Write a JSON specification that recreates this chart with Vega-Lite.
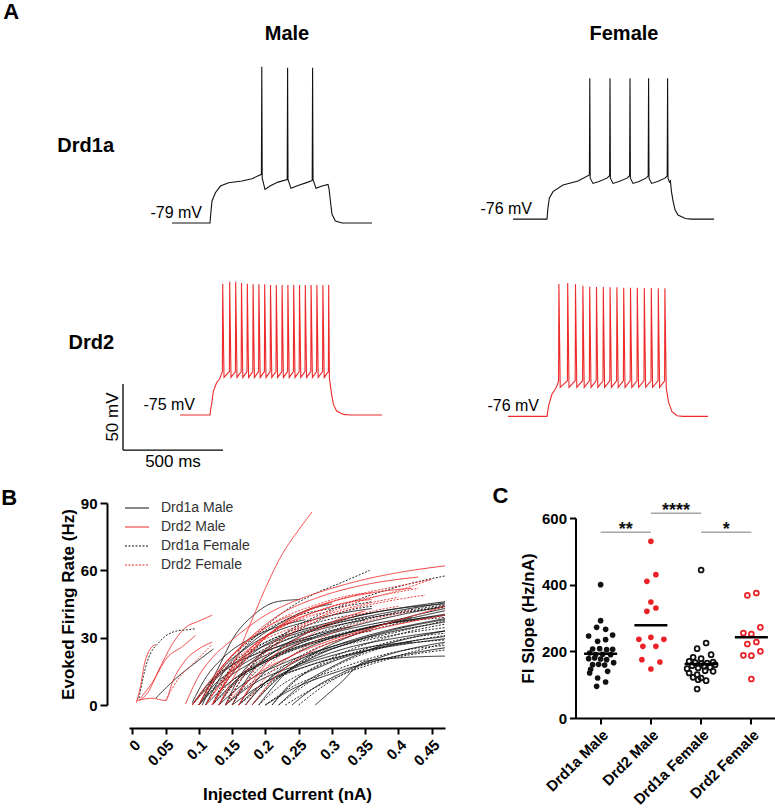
{
"$schema": "https://vega.github.io/schema/vega-lite/v6.json",
"background": "white",
"padding": {"left": 1, "top": 0, "right": 0, "bottom": 0},
"columns": 1,
"align": "none",
"spacing": 14,
"resolve": {"scale": {"color": "independent", "strokeDash": "independent"}},
"concat": [
{
"data": {"values": [
{"type":"Drd1a","sex":"Male","t":-190,"mV":-79},{"type":"Drd1a","sex":"Male","t":0,"mV":-79},{"type":"Drd1a","sex":"Male","t":5,"mV":-70},{"type":"Drd1a","sex":"Male","t":10,"mV":-62.3},{"type":"Drd1a","sex":"Male","t":27,"mV":-56},{"type":"Drd1a","sex":"Male","t":52,"mV":-51},{"type":"Drd1a","sex":"Male","t":93,"mV":-48.5},{"type":"Drd1a","sex":"Male","t":160,"mV":-47.2},{"type":"Drd1a","sex":"Male","t":210,"mV":-45.4},{"type":"Drd1a","sex":"Male","t":257,"mV":-42.1},{"type":"Drd1a","sex":"Male","t":259,"mV":39.4},{"type":"Drd1a","sex":"Male","t":261,"mV":-45},{"type":"Drd1a","sex":"Male","t":275,"mV":-53.5},{"type":"Drd1a","sex":"Male","t":300,"mV":-51},{"type":"Drd1a","sex":"Male","t":340,"mV":-48},{"type":"Drd1a","sex":"Male","t":386,"mV":-46},{"type":"Drd1a","sex":"Male","t":388,"mV":38.6},{"type":"Drd1a","sex":"Male","t":390,"mV":-46},{"type":"Drd1a","sex":"Male","t":405,"mV":-52.7},{"type":"Drd1a","sex":"Male","t":440,"mV":-50.5},{"type":"Drd1a","sex":"Male","t":490,"mV":-48},{"type":"Drd1a","sex":"Male","t":511,"mV":-46.7},{"type":"Drd1a","sex":"Male","t":513,"mV":38.6},{"type":"Drd1a","sex":"Male","t":515,"mV":-46},{"type":"Drd1a","sex":"Male","t":530,"mV":-52.7},{"type":"Drd1a","sex":"Male","t":560,"mV":-51},{"type":"Drd1a","sex":"Male","t":590,"mV":-49.7},{"type":"Drd1a","sex":"Male","t":595,"mV":-53},{"type":"Drd1a","sex":"Male","t":602,"mV":-62.3},{"type":"Drd1a","sex":"Male","t":610,"mV":-72.4},{"type":"Drd1a","sex":"Male","t":627,"mV":-77.5},{"type":"Drd1a","sex":"Male","t":660,"mV":-79},{"type":"Drd1a","sex":"Male","t":810,"mV":-79},
{"type":"Drd1a","sex":"Female","t":-170,"mV":-76},{"type":"Drd1a","sex":"Female","t":0,"mV":-76},{"type":"Drd1a","sex":"Female","t":5,"mV":-67},{"type":"Drd1a","sex":"Female","t":12,"mV":-60},{"type":"Drd1a","sex":"Female","t":30,"mV":-55.2},{"type":"Drd1a","sex":"Female","t":80,"mV":-50.2},{"type":"Drd1a","sex":"Female","t":155,"mV":-47.2},{"type":"Drd1a","sex":"Female","t":212,"mV":-42.6},{"type":"Drd1a","sex":"Female","t":214,"mV":30.6},{"type":"Drd1a","sex":"Female","t":216,"mV":-45},{"type":"Drd1a","sex":"Female","t":230,"mV":-49},{"type":"Drd1a","sex":"Female","t":260,"mV":-47.5},{"type":"Drd1a","sex":"Female","t":300,"mV":-45},{"type":"Drd1a","sex":"Female","t":313,"mV":-43.2},{"type":"Drd1a","sex":"Female","t":315,"mV":30.6},{"type":"Drd1a","sex":"Female","t":317,"mV":-45},{"type":"Drd1a","sex":"Female","t":330,"mV":-49},{"type":"Drd1a","sex":"Female","t":360,"mV":-47.5},{"type":"Drd1a","sex":"Female","t":400,"mV":-45},{"type":"Drd1a","sex":"Female","t":413,"mV":-43.2},{"type":"Drd1a","sex":"Female","t":415,"mV":30.6},{"type":"Drd1a","sex":"Female","t":417,"mV":-45},{"type":"Drd1a","sex":"Female","t":430,"mV":-49},{"type":"Drd1a","sex":"Female","t":460,"mV":-47.5},{"type":"Drd1a","sex":"Female","t":495,"mV":-45},{"type":"Drd1a","sex":"Female","t":506,"mV":-43.2},{"type":"Drd1a","sex":"Female","t":508,"mV":30.6},{"type":"Drd1a","sex":"Female","t":510,"mV":-45},{"type":"Drd1a","sex":"Female","t":523,"mV":-49},{"type":"Drd1a","sex":"Female","t":553,"mV":-47.5},{"type":"Drd1a","sex":"Female","t":590,"mV":-45},{"type":"Drd1a","sex":"Female","t":601,"mV":-43.2},{"type":"Drd1a","sex":"Female","t":603,"mV":30.6},{"type":"Drd1a","sex":"Female","t":605,"mV":-45},{"type":"Drd1a","sex":"Female","t":612,"mV":-48},{"type":"Drd1a","sex":"Female","t":617,"mV":-47},{"type":"Drd1a","sex":"Female","t":622,"mV":-55},{"type":"Drd1a","sex":"Female","t":630,"mV":-62},{"type":"Drd1a","sex":"Female","t":640,"mV":-69},{"type":"Drd1a","sex":"Female","t":655,"mV":-73},{"type":"Drd1a","sex":"Female","t":692,"mV":-75.5},{"type":"Drd1a","sex":"Female","t":720,"mV":-76},{"type":"Drd1a","sex":"Female","t":835,"mV":-76},
{"type":"Drd2","sex":"Male","t":-150,"mV":-75},{"type":"Drd2","sex":"Male","t":0,"mV":-75},{"type":"Drd2","sex":"Male","t":4,"mV":-70},{"type":"Drd2","sex":"Male","t":8,"mV":-66.9},{"type":"Drd2","sex":"Male","t":17,"mV":-56.8},{"type":"Drd2","sex":"Male","t":33,"mV":-50.5},{"type":"Drd2","sex":"Male","t":50,"mV":-47.2},
{"type":"Drd2","sex":"Male","t":62,"mV":-42},{"type":"Drd2","sex":"Male","t":63.5,"mV":24.5},{"type":"Drd2","sex":"Male","t":70,"mV":-46.5},
{"type":"Drd2","sex":"Male","t":97,"mV":-42},{"type":"Drd2","sex":"Male","t":98.5,"mV":26},{"type":"Drd2","sex":"Male","t":105,"mV":-46.5},
{"type":"Drd2","sex":"Male","t":127,"mV":-42},{"type":"Drd2","sex":"Male","t":128.5,"mV":26},{"type":"Drd2","sex":"Male","t":135,"mV":-46.5},
{"type":"Drd2","sex":"Male","t":156,"mV":-42},{"type":"Drd2","sex":"Male","t":157.5,"mV":25},{"type":"Drd2","sex":"Male","t":164,"mV":-46.5},
{"type":"Drd2","sex":"Male","t":185,"mV":-42},{"type":"Drd2","sex":"Male","t":186.5,"mV":24.5},{"type":"Drd2","sex":"Male","t":193,"mV":-46.5},
{"type":"Drd2","sex":"Male","t":214,"mV":-42},{"type":"Drd2","sex":"Male","t":215.5,"mV":24},{"type":"Drd2","sex":"Male","t":222,"mV":-46.5},
{"type":"Drd2","sex":"Male","t":243,"mV":-42},{"type":"Drd2","sex":"Male","t":244.5,"mV":24},{"type":"Drd2","sex":"Male","t":251,"mV":-46.5},
{"type":"Drd2","sex":"Male","t":272,"mV":-42},{"type":"Drd2","sex":"Male","t":273.5,"mV":24},{"type":"Drd2","sex":"Male","t":280,"mV":-46.5},
{"type":"Drd2","sex":"Male","t":301,"mV":-42},{"type":"Drd2","sex":"Male","t":302.5,"mV":23.5},{"type":"Drd2","sex":"Male","t":309,"mV":-46.5},
{"type":"Drd2","sex":"Male","t":330,"mV":-42},{"type":"Drd2","sex":"Male","t":331.5,"mV":23.5},{"type":"Drd2","sex":"Male","t":338,"mV":-46.5},
{"type":"Drd2","sex":"Male","t":359,"mV":-42},{"type":"Drd2","sex":"Male","t":360.5,"mV":23.5},{"type":"Drd2","sex":"Male","t":367,"mV":-46.5},
{"type":"Drd2","sex":"Male","t":388,"mV":-42},{"type":"Drd2","sex":"Male","t":389.5,"mV":23.5},{"type":"Drd2","sex":"Male","t":396,"mV":-46.5},
{"type":"Drd2","sex":"Male","t":417,"mV":-42},{"type":"Drd2","sex":"Male","t":418.5,"mV":23.5},{"type":"Drd2","sex":"Male","t":425,"mV":-46.5},
{"type":"Drd2","sex":"Male","t":446,"mV":-42},{"type":"Drd2","sex":"Male","t":447.5,"mV":23.5},{"type":"Drd2","sex":"Male","t":454,"mV":-46.5},
{"type":"Drd2","sex":"Male","t":475,"mV":-42},{"type":"Drd2","sex":"Male","t":476.5,"mV":23.5},{"type":"Drd2","sex":"Male","t":483,"mV":-46.5},
{"type":"Drd2","sex":"Male","t":504,"mV":-42},{"type":"Drd2","sex":"Male","t":505.5,"mV":23.5},{"type":"Drd2","sex":"Male","t":512,"mV":-46.5},
{"type":"Drd2","sex":"Male","t":533,"mV":-42},{"type":"Drd2","sex":"Male","t":534.5,"mV":23.5},{"type":"Drd2","sex":"Male","t":541,"mV":-46.5},
{"type":"Drd2","sex":"Male","t":563,"mV":-42},{"type":"Drd2","sex":"Male","t":564.5,"mV":23.5},{"type":"Drd2","sex":"Male","t":571,"mV":-46.5},
{"type":"Drd2","sex":"Male","t":592,"mV":-42},{"type":"Drd2","sex":"Male","t":593.5,"mV":23.5},{"type":"Drd2","sex":"Male","t":597,"mV":-47},
{"type":"Drd2","sex":"Male","t":608,"mV":-59.3},{"type":"Drd2","sex":"Male","t":617,"mV":-66.9},{"type":"Drd2","sex":"Male","t":633,"mV":-72},{"type":"Drd2","sex":"Male","t":667,"mV":-74.5},{"type":"Drd2","sex":"Male","t":700,"mV":-75},{"type":"Drd2","sex":"Male","t":860,"mV":-75},
{"type":"Drd2","sex":"Female","t":-195,"mV":-76},{"type":"Drd2","sex":"Female","t":0,"mV":-76},{"type":"Drd2","sex":"Female","t":4,"mV":-72},{"type":"Drd2","sex":"Female","t":8,"mV":-67.9},{"type":"Drd2","sex":"Female","t":25,"mV":-59.1},{"type":"Drd2","sex":"Female","t":42,"mV":-55.3},{"type":"Drd2","sex":"Female","t":52,"mV":-52},
{"type":"Drd2","sex":"Female","t":58,"mV":-49},{"type":"Drd2","sex":"Female","t":59.5,"mV":24.2},{"type":"Drd2","sex":"Female","t":66,"mV":-54},
{"type":"Drd2","sex":"Female","t":102,"mV":-49},{"type":"Drd2","sex":"Female","t":103.5,"mV":25},{"type":"Drd2","sex":"Female","t":110,"mV":-54},
{"type":"Drd2","sex":"Female","t":141,"mV":-49},{"type":"Drd2","sex":"Female","t":142.5,"mV":24},{"type":"Drd2","sex":"Female","t":149,"mV":-54},
{"type":"Drd2","sex":"Female","t":178,"mV":-49},{"type":"Drd2","sex":"Female","t":179.5,"mV":23},{"type":"Drd2","sex":"Female","t":186,"mV":-54},
{"type":"Drd2","sex":"Female","t":212,"mV":-49},{"type":"Drd2","sex":"Female","t":213.5,"mV":22.2},{"type":"Drd2","sex":"Female","t":220,"mV":-54},
{"type":"Drd2","sex":"Female","t":246,"mV":-49},{"type":"Drd2","sex":"Female","t":247.5,"mV":22},{"type":"Drd2","sex":"Female","t":254,"mV":-54},
{"type":"Drd2","sex":"Female","t":280,"mV":-49},{"type":"Drd2","sex":"Female","t":281.5,"mV":22},{"type":"Drd2","sex":"Female","t":288,"mV":-54},
{"type":"Drd2","sex":"Female","t":314,"mV":-49},{"type":"Drd2","sex":"Female","t":315.5,"mV":21.8},{"type":"Drd2","sex":"Female","t":322,"mV":-54},
{"type":"Drd2","sex":"Female","t":348,"mV":-49},{"type":"Drd2","sex":"Female","t":349.5,"mV":21.8},{"type":"Drd2","sex":"Female","t":356,"mV":-54},
{"type":"Drd2","sex":"Female","t":382,"mV":-49},{"type":"Drd2","sex":"Female","t":383.5,"mV":21.5},{"type":"Drd2","sex":"Female","t":390,"mV":-54},
{"type":"Drd2","sex":"Female","t":416,"mV":-49},{"type":"Drd2","sex":"Female","t":417.5,"mV":21.5},{"type":"Drd2","sex":"Female","t":424,"mV":-54},
{"type":"Drd2","sex":"Female","t":450,"mV":-49},{"type":"Drd2","sex":"Female","t":451.5,"mV":21.5},{"type":"Drd2","sex":"Female","t":458,"mV":-54},
{"type":"Drd2","sex":"Female","t":485,"mV":-49},{"type":"Drd2","sex":"Female","t":486.5,"mV":21.3},{"type":"Drd2","sex":"Female","t":493,"mV":-54},
{"type":"Drd2","sex":"Female","t":520,"mV":-49},{"type":"Drd2","sex":"Female","t":521.5,"mV":21.3},{"type":"Drd2","sex":"Female","t":528,"mV":-54},
{"type":"Drd2","sex":"Female","t":555,"mV":-49},{"type":"Drd2","sex":"Female","t":556.5,"mV":21},{"type":"Drd2","sex":"Female","t":563,"mV":-54},
{"type":"Drd2","sex":"Female","t":588,"mV":-49},{"type":"Drd2","sex":"Female","t":589.5,"mV":21},{"type":"Drd2","sex":"Female","t":596,"mV":-54},
{"type":"Drd2","sex":"Female","t":600,"mV":-58},{"type":"Drd2","sex":"Female","t":608,"mV":-65.4},{"type":"Drd2","sex":"Female","t":625,"mV":-72.5},{"type":"Drd2","sex":"Female","t":650,"mV":-75.5},{"type":"Drd2","sex":"Female","t":680,"mV":-76},{"type":"Drd2","sex":"Female","t":805,"mV":-76},
{"kind":"vm","type":"Drd1a","sex":"Male","t":-40,"mV":-79,"label":"-79 mV"},
{"kind":"vm","type":"Drd1a","sex":"Female","t":-75,"mV":-76,"label":"-76 mV"},
{"kind":"vm","type":"Drd2","sex":"Male","t":-75,"mV":-75,"label":"-75 mV"},
{"kind":"vm","type":"Drd2","sex":"Female","t":-40,"mV":-76,"label":"-76 mV"},
{"kind":"bar","type":"Drd2","sex":"Male","t":-435,"t2":-435,"mV":-101.5,"mV2":-51.5},
{"kind":"bar","type":"Drd2","sex":"Male","t":-435,"t2":65,"mV":-101.5,"mV2":-101.5},
{"kind":"vlabel","type":"Drd2","sex":"Male","t":-435,"mV":-76.5,"label":"50 mV"},
{"kind":"hlabel","type":"Drd2","sex":"Male","t":-185,"mV":-101.5,"label":"500 ms"}
]},
"title": {"text": "A", "anchor": "start", "frame": "bounds", "fontSize": 22, "fontWeight": "bold", "dx": -54, "offset": 0},
"align": {"row": "each", "column": "all"},
"facet": {
"row": {"field": "type", "type": "nominal", "sort": ["Drd1a", "Drd2"], "header": {"title": null, "labelAngle": 0, "labelOrient": "left", "labelAlign": "left", "labelFontSize": 20, "labelFontWeight": "bold", "labelPadding": -10}},
"column": {"field": "sex", "type": "nominal", "sort": ["Male", "Female"], "header": {"title": null, "labelFontSize": 20, "labelFontWeight": "bold", "labelPadding": 7.5}}
},
"spacing": {"row": 7.3, "column": 21},
"spec": {
"width": 316, "height": 190,
"encoding": {
"x": {"field": "t", "type": "quantitative", "scale": {"domain": [-405, 1175], "nice": false, "zero": false}, "axis": null},
"y": {"field": "mV", "type": "quantitative", "scale": {"domain": [-92.6, 51.3], "nice": false, "zero": false}, "axis": null}
},
"layer": [
{"transform": [{"filter": "!datum.kind"}], "mark": {"type": "line", "strokeWidth": 1.1}, "encoding": {"color": {"field": "type", "type": "nominal", "scale": {"domain": ["Drd1a", "Drd2"], "range": ["#111111", "#ee2a2a"]}, "legend": null}}},
{"transform": [{"filter": "datum.kind == 'bar'"}], "mark": {"type": "rule", "strokeWidth": 1.3, "color": "black"}, "encoding": {"x2": {"field": "t2"}, "y2": {"field": "mV2"}}},
{"transform": [{"filter": "datum.kind == 'vm'"}], "mark": {"type": "text", "align": "right", "baseline": "alphabetic", "dy": -5, "fontSize": 16, "color": "black"}, "encoding": {"text": {"field": "label"}}},
{"transform": [{"filter": "datum.kind == 'vlabel'"}], "mark": {"type": "text", "angle": 270, "align": "center", "baseline": "bottom", "dy": -1, "fontSize": 17, "color": "black"}, "encoding": {"text": {"field": "label"}}},
{"transform": [{"filter": "datum.kind == 'hlabel'"}], "mark": {"type": "text", "align": "center", "baseline": "top", "dy": 4, "fontSize": 17, "color": "black"}, "encoding": {"text": {"field": "label"}}}
]
}
},
{
"columns": 2,
"align": "none",
"spacing": 44.5,
"resolve": {"scale": {"color": "independent", "strokeDash": "independent"}},
"concat": [
{
"width": 316, "height": 202,
"title": {"text": "B", "anchor": "start", "frame": "bounds", "fontSize": 22, "fontWeight": "bold", "dx": -58, "offset": -14},
"data": {"values": [
{"id":"D1","grp":"Drd1a Female","nA":0.01,"Hz":3},{"id":"D1","grp":"Drd1a Female","nA":0.022,"Hz":19},{"id":"D1","grp":"Drd1a Female","nA":0.042,"Hz":28.5},{"id":"D1","grp":"Drd1a Female","nA":0.067,"Hz":33},{"id":"D1","grp":"Drd1a Female","nA":0.082,"Hz":33.5},{"id":"D1","grp":"Drd1a Female","nA":0.095,"Hz":34},
{"id":"D2","grp":"Drd1a Female","nA":0.12,"Hz":0},{"id":"D2","grp":"Drd1a Female","nA":0.15,"Hz":18},{"id":"D2","grp":"Drd1a Female","nA":0.19,"Hz":32},{"id":"D2","grp":"Drd1a Female","nA":0.23,"Hz":42},{"id":"D2","grp":"Drd1a Female","nA":0.27,"Hz":49},{"id":"D2","grp":"Drd1a Female","nA":0.31,"Hz":54},{"id":"D2","grp":"Drd1a Female","nA":0.357,"Hz":60},
{"id":"D3","grp":"Drd1a Female","nA":0.14,"Hz":0},{"id":"D3","grp":"Drd1a Female","nA":0.18,"Hz":18},{"id":"D3","grp":"Drd1a Female","nA":0.23,"Hz":32},{"id":"D3","grp":"Drd1a Female","nA":0.28,"Hz":40},{"id":"D3","grp":"Drd1a Female","nA":0.33,"Hz":46},{"id":"D3","grp":"Drd1a Female","nA":0.38,"Hz":51},{"id":"D3","grp":"Drd1a Female","nA":0.43,"Hz":55},{"id":"D3","grp":"Drd1a Female","nA":0.47,"Hz":57.5},
{"id":"D4","grp":"Drd1a Female","nA":0.1,"Hz":0},{"id":"D4","grp":"Drd1a Female","nA":0.13,"Hz":10},{"id":"D4","grp":"Drd1a Female","nA":0.17,"Hz":20},{"id":"D4","grp":"Drd1a Female","nA":0.23,"Hz":29},{"id":"D4","grp":"Drd1a Female","nA":0.3,"Hz":36},{"id":"D4","grp":"Drd1a Female","nA":0.38,"Hz":40},{"id":"D4","grp":"Drd1a Female","nA":0.47,"Hz":43.5},
{"id":"D5","grp":"Drd1a Female","nA":0.12,"Hz":0},{"id":"D5","grp":"Drd1a Female","nA":0.16,"Hz":11},{"id":"D5","grp":"Drd1a Female","nA":0.21,"Hz":21},{"id":"D5","grp":"Drd1a Female","nA":0.28,"Hz":29},{"id":"D5","grp":"Drd1a Female","nA":0.36,"Hz":35},{"id":"D5","grp":"Drd1a Female","nA":0.47,"Hz":39},
{"id":"D6","grp":"Drd1a Female","nA":0.14,"Hz":0},{"id":"D6","grp":"Drd1a Female","nA":0.18,"Hz":10},{"id":"D6","grp":"Drd1a Female","nA":0.24,"Hz":19},{"id":"D6","grp":"Drd1a Female","nA":0.31,"Hz":26},{"id":"D6","grp":"Drd1a Female","nA":0.39,"Hz":31},{"id":"D6","grp":"Drd1a Female","nA":0.47,"Hz":34.5},
{"id":"D7","grp":"Drd1a Female","nA":0.16,"Hz":0},{"id":"D7","grp":"Drd1a Female","nA":0.2,"Hz":9},{"id":"D7","grp":"Drd1a Female","nA":0.26,"Hz":17},{"id":"D7","grp":"Drd1a Female","nA":0.33,"Hz":23},{"id":"D7","grp":"Drd1a Female","nA":0.4,"Hz":27},{"id":"D7","grp":"Drd1a Female","nA":0.47,"Hz":29},
{"id":"D8","grp":"Drd1a Female","nA":0.2,"Hz":0},{"id":"D8","grp":"Drd1a Female","nA":0.24,"Hz":8},{"id":"D8","grp":"Drd1a Female","nA":0.3,"Hz":15},{"id":"D8","grp":"Drd1a Female","nA":0.36,"Hz":21},{"id":"D8","grp":"Drd1a Female","nA":0.42,"Hz":25},{"id":"D8","grp":"Drd1a Female","nA":0.47,"Hz":26.5},
{"id":"D9","grp":"Drd1a Female","nA":0.23,"Hz":0},{"id":"D9","grp":"Drd1a Female","nA":0.27,"Hz":7},{"id":"D9","grp":"Drd1a Female","nA":0.32,"Hz":14},{"id":"D9","grp":"Drd1a Female","nA":0.38,"Hz":20},{"id":"D9","grp":"Drd1a Female","nA":0.47,"Hz":24.5},
{"id":"D10","grp":"Drd1a Female","nA":0.25,"Hz":0},{"id":"D10","grp":"Drd1a Female","nA":0.29,"Hz":9},{"id":"D10","grp":"Drd1a Female","nA":0.34,"Hz":17},{"id":"D10","grp":"Drd1a Female","nA":0.4,"Hz":22},{"id":"D10","grp":"Drd1a Female","nA":0.47,"Hz":27.5},
{"id":"D11","grp":"Drd1a Female","nA":0.11,"Hz":0},{"id":"D11","grp":"Drd1a Female","nA":0.14,"Hz":13},{"id":"D11","grp":"Drd1a Female","nA":0.18,"Hz":24},{"id":"D11","grp":"Drd1a Female","nA":0.23,"Hz":32},{"id":"D11","grp":"Drd1a Female","nA":0.28,"Hz":37},{"id":"D11","grp":"Drd1a Female","nA":0.33,"Hz":40},{"id":"D11","grp":"Drd1a Female","nA":0.36,"Hz":41},
{"id":"D12","grp":"Drd1a Female","nA":0.13,"Hz":0},{"id":"D12","grp":"Drd1a Female","nA":0.16,"Hz":12},{"id":"D12","grp":"Drd1a Female","nA":0.21,"Hz":23},{"id":"D12","grp":"Drd1a Female","nA":0.27,"Hz":31},{"id":"D12","grp":"Drd1a Female","nA":0.33,"Hz":37},{"id":"D12","grp":"Drd1a Female","nA":0.4,"Hz":41},{"id":"D12","grp":"Drd1a Female","nA":0.47,"Hz":44},
{"id":"D13","grp":"Drd1a Female","nA":0.09,"Hz":0},{"id":"D13","grp":"Drd1a Female","nA":0.12,"Hz":11},{"id":"D13","grp":"Drd1a Female","nA":0.16,"Hz":21},{"id":"D13","grp":"Drd1a Female","nA":0.2,"Hz":28},{"id":"D13","grp":"Drd1a Female","nA":0.25,"Hz":33},{"id":"D13","grp":"Drd1a Female","nA":0.3,"Hz":36},
{"id":"D14","grp":"Drd1a Female","nA":0.17,"Hz":0},{"id":"D14","grp":"Drd1a Female","nA":0.21,"Hz":13},{"id":"D14","grp":"Drd1a Female","nA":0.26,"Hz":23},{"id":"D14","grp":"Drd1a Female","nA":0.32,"Hz":30},{"id":"D14","grp":"Drd1a Female","nA":0.38,"Hz":35},{"id":"D14","grp":"Drd1a Female","nA":0.47,"Hz":40},
{"id":"D15","grp":"Drd1a Female","nA":0.19,"Hz":0},{"id":"D15","grp":"Drd1a Female","nA":0.22,"Hz":8},{"id":"D15","grp":"Drd1a Female","nA":0.27,"Hz":16},{"id":"D15","grp":"Drd1a Female","nA":0.33,"Hz":23},{"id":"D15","grp":"Drd1a Female","nA":0.4,"Hz":29},{"id":"D15","grp":"Drd1a Female","nA":0.47,"Hz":32},
{"id":"D16","grp":"Drd1a Female","nA":0.15,"Hz":0},{"id":"D16","grp":"Drd1a Female","nA":0.18,"Hz":13},{"id":"D16","grp":"Drd1a Female","nA":0.23,"Hz":24},{"id":"D16","grp":"Drd1a Female","nA":0.29,"Hz":32},{"id":"D16","grp":"Drd1a Female","nA":0.35,"Hz":38},{"id":"D16","grp":"Drd1a Female","nA":0.41,"Hz":42},{"id":"D16","grp":"Drd1a Female","nA":0.47,"Hz":44.5},
{"id":"D17","grp":"Drd1a Female","nA":0.21,"Hz":0},{"id":"D17","grp":"Drd1a Female","nA":0.25,"Hz":12},{"id":"D17","grp":"Drd1a Female","nA":0.3,"Hz":21},{"id":"D17","grp":"Drd1a Female","nA":0.36,"Hz":28},{"id":"D17","grp":"Drd1a Female","nA":0.42,"Hz":33},{"id":"D17","grp":"Drd1a Female","nA":0.47,"Hz":36},
{"id":"D18","grp":"Drd1a Female","nA":0.12,"Hz":0},{"id":"D18","grp":"Drd1a Female","nA":0.14,"Hz":8},{"id":"D18","grp":"Drd1a Female","nA":0.18,"Hz":16},{"id":"D18","grp":"Drd1a Female","nA":0.23,"Hz":23},{"id":"D18","grp":"Drd1a Female","nA":0.29,"Hz":29},{"id":"D18","grp":"Drd1a Female","nA":0.36,"Hz":33},
{"id":"D19","grp":"Drd1a Female","nA":0.1,"Hz":0},{"id":"D19","grp":"Drd1a Female","nA":0.13,"Hz":15},{"id":"D19","grp":"Drd1a Female","nA":0.17,"Hz":27},{"id":"D19","grp":"Drd1a Female","nA":0.21,"Hz":35},{"id":"D19","grp":"Drd1a Female","nA":0.25,"Hz":40},{"id":"D19","grp":"Drd1a Female","nA":0.3,"Hz":43},{"id":"D19","grp":"Drd1a Female","nA":0.36,"Hz":46},
{"id":"D20","grp":"Drd1a Female","nA":0.18,"Hz":0},{"id":"D20","grp":"Drd1a Female","nA":0.21,"Hz":10},{"id":"D20","grp":"Drd1a Female","nA":0.26,"Hz":20},{"id":"D20","grp":"Drd1a Female","nA":0.32,"Hz":27},{"id":"D20","grp":"Drd1a Female","nA":0.39,"Hz":32},{"id":"D20","grp":"Drd1a Female","nA":0.47,"Hz":37.5},
{"id":"D21","grp":"Drd1a Female","nA":0.22,"Hz":0},{"id":"D21","grp":"Drd1a Female","nA":0.26,"Hz":9},{"id":"D21","grp":"Drd1a Female","nA":0.31,"Hz":18},{"id":"D21","grp":"Drd1a Female","nA":0.37,"Hz":25},{"id":"D21","grp":"Drd1a Female","nA":0.43,"Hz":29},{"id":"D21","grp":"Drd1a Female","nA":0.47,"Hz":31},
{"id":"D22","grp":"Drd1a Female","nA":0.14,"Hz":0},{"id":"D22","grp":"Drd1a Female","nA":0.17,"Hz":14},{"id":"D22","grp":"Drd1a Female","nA":0.21,"Hz":26},{"id":"D22","grp":"Drd1a Female","nA":0.26,"Hz":35},{"id":"D22","grp":"Drd1a Female","nA":0.31,"Hz":41},{"id":"D22","grp":"Drd1a Female","nA":0.36,"Hz":44},
{"id":"S1","grp":"Drd1a Male","nA":0.09,"Hz":0},{"id":"S1","grp":"Drd1a Male","nA":0.12,"Hz":10},{"id":"S1","grp":"Drd1a Male","nA":0.16,"Hz":20},{"id":"S1","grp":"Drd1a Male","nA":0.22,"Hz":29},{"id":"S1","grp":"Drd1a Male","nA":0.3,"Hz":36},{"id":"S1","grp":"Drd1a Male","nA":0.38,"Hz":41},{"id":"S1","grp":"Drd1a Male","nA":0.47,"Hz":45.5},
{"id":"S2","grp":"Drd1a Male","nA":0.1,"Hz":0},{"id":"S2","grp":"Drd1a Male","nA":0.13,"Hz":9},{"id":"S2","grp":"Drd1a Male","nA":0.18,"Hz":19},{"id":"S2","grp":"Drd1a Male","nA":0.25,"Hz":28},{"id":"S2","grp":"Drd1a Male","nA":0.33,"Hz":35},{"id":"S2","grp":"Drd1a Male","nA":0.4,"Hz":40},{"id":"S2","grp":"Drd1a Male","nA":0.47,"Hz":44},
{"id":"S3","grp":"Drd1a Male","nA":0.11,"Hz":0},{"id":"S3","grp":"Drd1a Male","nA":0.15,"Hz":11},{"id":"S3","grp":"Drd1a Male","nA":0.2,"Hz":20},{"id":"S3","grp":"Drd1a Male","nA":0.27,"Hz":28},{"id":"S3","grp":"Drd1a Male","nA":0.35,"Hz":34},{"id":"S3","grp":"Drd1a Male","nA":0.47,"Hz":42},
{"id":"S4","grp":"Drd1a Male","nA":0.12,"Hz":0},{"id":"S4","grp":"Drd1a Male","nA":0.16,"Hz":12},{"id":"S4","grp":"Drd1a Male","nA":0.22,"Hz":22},{"id":"S4","grp":"Drd1a Male","nA":0.3,"Hz":30},{"id":"S4","grp":"Drd1a Male","nA":0.38,"Hz":36},{"id":"S4","grp":"Drd1a Male","nA":0.47,"Hz":40},
{"id":"S5","grp":"Drd1a Male","nA":0.13,"Hz":0},{"id":"S5","grp":"Drd1a Male","nA":0.17,"Hz":10},{"id":"S5","grp":"Drd1a Male","nA":0.23,"Hz":19},{"id":"S5","grp":"Drd1a Male","nA":0.3,"Hz":26},{"id":"S5","grp":"Drd1a Male","nA":0.38,"Hz":32},{"id":"S5","grp":"Drd1a Male","nA":0.47,"Hz":37},
{"id":"S6","grp":"Drd1a Male","nA":0.14,"Hz":0},{"id":"S6","grp":"Drd1a Male","nA":0.18,"Hz":9},{"id":"S6","grp":"Drd1a Male","nA":0.25,"Hz":18},{"id":"S6","grp":"Drd1a Male","nA":0.33,"Hz":26},{"id":"S6","grp":"Drd1a Male","nA":0.4,"Hz":30},{"id":"S6","grp":"Drd1a Male","nA":0.47,"Hz":33},
{"id":"S7","grp":"Drd1a Male","nA":0.15,"Hz":0},{"id":"S7","grp":"Drd1a Male","nA":0.2,"Hz":10},{"id":"S7","grp":"Drd1a Male","nA":0.27,"Hz":18},{"id":"S7","grp":"Drd1a Male","nA":0.35,"Hz":24},{"id":"S7","grp":"Drd1a Male","nA":0.47,"Hz":29.5},
{"id":"S8","grp":"Drd1a Male","nA":0.2,"Hz":0},{"id":"S8","grp":"Drd1a Male","nA":0.24,"Hz":7},{"id":"S8","grp":"Drd1a Male","nA":0.3,"Hz":14},{"id":"S8","grp":"Drd1a Male","nA":0.37,"Hz":20},{"id":"S8","grp":"Drd1a Male","nA":0.47,"Hz":25.5},
{"id":"S9","grp":"Drd1a Male","nA":0.275,"Hz":0},{"id":"S9","grp":"Drd1a Male","nA":0.31,"Hz":9},{"id":"S9","grp":"Drd1a Male","nA":0.352,"Hz":19.6},{"id":"S9","grp":"Drd1a Male","nA":0.4,"Hz":21},{"id":"S9","grp":"Drd1a Male","nA":0.47,"Hz":21.8},
{"id":"S10","grp":"Drd1a Male","nA":0.1,"Hz":0},{"id":"S10","grp":"Drd1a Male","nA":0.13,"Hz":17},{"id":"S10","grp":"Drd1a Male","nA":0.152,"Hz":30},{"id":"S10","grp":"Drd1a Male","nA":0.182,"Hz":40},{"id":"S10","grp":"Drd1a Male","nA":0.217,"Hz":46},{"id":"S10","grp":"Drd1a Male","nA":0.252,"Hz":47},
{"id":"S11","grp":"Drd1a Male","nA":0.035,"Hz":3},{"id":"S11","grp":"Drd1a Male","nA":0.07,"Hz":13},{"id":"S11","grp":"Drd1a Male","nA":0.1,"Hz":20},{"id":"S11","grp":"Drd1a Male","nA":0.122,"Hz":25},
{"id":"S12","grp":"Drd1a Male","nA":0.09,"Hz":1},{"id":"S12","grp":"Drd1a Male","nA":0.11,"Hz":12},{"id":"S12","grp":"Drd1a Male","nA":0.14,"Hz":22},{"id":"S12","grp":"Drd1a Male","nA":0.18,"Hz":30},{"id":"S12","grp":"Drd1a Male","nA":0.22,"Hz":35},{"id":"S12","grp":"Drd1a Male","nA":0.26,"Hz":38},
{"id":"S13","grp":"Drd1a Male","nA":0.105,"Hz":0},{"id":"S13","grp":"Drd1a Male","nA":0.13,"Hz":14},{"id":"S13","grp":"Drd1a Male","nA":0.17,"Hz":25},{"id":"S13","grp":"Drd1a Male","nA":0.21,"Hz":32},{"id":"S13","grp":"Drd1a Male","nA":0.26,"Hz":37},{"id":"S13","grp":"Drd1a Male","nA":0.3,"Hz":40},{"id":"S13","grp":"Drd1a Male","nA":0.36,"Hz":43},
{"id":"S14","grp":"Drd1a Male","nA":0.12,"Hz":0},{"id":"S14","grp":"Drd1a Male","nA":0.15,"Hz":14},{"id":"S14","grp":"Drd1a Male","nA":0.19,"Hz":25},{"id":"S14","grp":"Drd1a Male","nA":0.24,"Hz":32},{"id":"S14","grp":"Drd1a Male","nA":0.3,"Hz":37},{"id":"S14","grp":"Drd1a Male","nA":0.36,"Hz":41},{"id":"S14","grp":"Drd1a Male","nA":0.42,"Hz":44},{"id":"S14","grp":"Drd1a Male","nA":0.47,"Hz":46},
{"id":"S15","grp":"Drd1a Male","nA":0.16,"Hz":0},{"id":"S15","grp":"Drd1a Male","nA":0.19,"Hz":12},{"id":"S15","grp":"Drd1a Male","nA":0.24,"Hz":22},{"id":"S15","grp":"Drd1a Male","nA":0.3,"Hz":30},{"id":"S15","grp":"Drd1a Male","nA":0.36,"Hz":35},{"id":"S15","grp":"Drd1a Male","nA":0.42,"Hz":38},{"id":"S15","grp":"Drd1a Male","nA":0.47,"Hz":40.5},
{"id":"S16","grp":"Drd1a Male","nA":0.18,"Hz":0},{"id":"S16","grp":"Drd1a Male","nA":0.22,"Hz":12},{"id":"S16","grp":"Drd1a Male","nA":0.27,"Hz":21},{"id":"S16","grp":"Drd1a Male","nA":0.33,"Hz":28},{"id":"S16","grp":"Drd1a Male","nA":0.4,"Hz":34},{"id":"S16","grp":"Drd1a Male","nA":0.47,"Hz":38},
{"id":"S17","grp":"Drd1a Male","nA":0.22,"Hz":0},{"id":"S17","grp":"Drd1a Male","nA":0.25,"Hz":8},{"id":"S17","grp":"Drd1a Male","nA":0.3,"Hz":17},{"id":"S17","grp":"Drd1a Male","nA":0.36,"Hz":25},{"id":"S17","grp":"Drd1a Male","nA":0.42,"Hz":30},{"id":"S17","grp":"Drd1a Male","nA":0.47,"Hz":33},
{"id":"S18","grp":"Drd1a Male","nA":0.24,"Hz":0},{"id":"S18","grp":"Drd1a Male","nA":0.27,"Hz":7},{"id":"S18","grp":"Drd1a Male","nA":0.32,"Hz":15},{"id":"S18","grp":"Drd1a Male","nA":0.38,"Hz":22},{"id":"S18","grp":"Drd1a Male","nA":0.47,"Hz":28},
{"id":"S19","grp":"Drd1a Male","nA":0.09,"Hz":0},{"id":"S19","grp":"Drd1a Male","nA":0.11,"Hz":8},{"id":"S19","grp":"Drd1a Male","nA":0.14,"Hz":16},{"id":"S19","grp":"Drd1a Male","nA":0.18,"Hz":22},{"id":"S19","grp":"Drd1a Male","nA":0.22,"Hz":26},{"id":"S19","grp":"Drd1a Male","nA":0.27,"Hz":30},
{"id":"S20","grp":"Drd1a Male","nA":0.14,"Hz":0},{"id":"S20","grp":"Drd1a Male","nA":0.16,"Hz":12},{"id":"S20","grp":"Drd1a Male","nA":0.2,"Hz":24},{"id":"S20","grp":"Drd1a Male","nA":0.25,"Hz":31},{"id":"S20","grp":"Drd1a Male","nA":0.3,"Hz":35},{"id":"S20","grp":"Drd1a Male","nA":0.35,"Hz":38},
{"id":"S21","grp":"Drd1a Male","nA":0.13,"Hz":0},{"id":"S21","grp":"Drd1a Male","nA":0.15,"Hz":9},{"id":"S21","grp":"Drd1a Male","nA":0.19,"Hz":18},{"id":"S21","grp":"Drd1a Male","nA":0.24,"Hz":26},{"id":"S21","grp":"Drd1a Male","nA":0.3,"Hz":32},{"id":"S21","grp":"Drd1a Male","nA":0.36,"Hz":36},{"id":"S21","grp":"Drd1a Male","nA":0.42,"Hz":39},
{"id":"S22","grp":"Drd1a Male","nA":0.17,"Hz":0},{"id":"S22","grp":"Drd1a Male","nA":0.2,"Hz":10},{"id":"S22","grp":"Drd1a Male","nA":0.25,"Hz":20},{"id":"S22","grp":"Drd1a Male","nA":0.31,"Hz":27},{"id":"S22","grp":"Drd1a Male","nA":0.38,"Hz":33},{"id":"S22","grp":"Drd1a Male","nA":0.47,"Hz":38.5},
{"id":"S23","grp":"Drd1a Male","nA":0.1,"Hz":0},{"id":"S23","grp":"Drd1a Male","nA":0.12,"Hz":8},{"id":"S23","grp":"Drd1a Male","nA":0.16,"Hz":17},{"id":"S23","grp":"Drd1a Male","nA":0.21,"Hz":25},{"id":"S23","grp":"Drd1a Male","nA":0.27,"Hz":31},{"id":"S23","grp":"Drd1a Male","nA":0.33,"Hz":35},
{"id":"S24","grp":"Drd1a Male","nA":0.19,"Hz":0},{"id":"S24","grp":"Drd1a Male","nA":0.23,"Hz":14},{"id":"S24","grp":"Drd1a Male","nA":0.28,"Hz":24},{"id":"S24","grp":"Drd1a Male","nA":0.34,"Hz":32},{"id":"S24","grp":"Drd1a Male","nA":0.4,"Hz":38},{"id":"S24","grp":"Drd1a Male","nA":0.47,"Hz":43},
{"id":"S25","grp":"Drd1a Male","nA":0.15,"Hz":0},{"id":"S25","grp":"Drd1a Male","nA":0.18,"Hz":15},{"id":"S25","grp":"Drd1a Male","nA":0.22,"Hz":25},{"id":"S25","grp":"Drd1a Male","nA":0.27,"Hz":33},{"id":"S25","grp":"Drd1a Male","nA":0.33,"Hz":39},{"id":"S25","grp":"Drd1a Male","nA":0.4,"Hz":43},{"id":"S25","grp":"Drd1a Male","nA":0.47,"Hz":45},
{"id":"S26","grp":"Drd1a Male","nA":0.11,"Hz":0},{"id":"S26","grp":"Drd1a Male","nA":0.14,"Hz":16},{"id":"S26","grp":"Drd1a Male","nA":0.18,"Hz":28},{"id":"S26","grp":"Drd1a Male","nA":0.22,"Hz":36},{"id":"S26","grp":"Drd1a Male","nA":0.26,"Hz":42},{"id":"S26","grp":"Drd1a Male","nA":0.3,"Hz":45},
{"id":"S27","grp":"Drd1a Male","nA":0.21,"Hz":0},{"id":"S27","grp":"Drd1a Male","nA":0.24,"Hz":10},{"id":"S27","grp":"Drd1a Male","nA":0.29,"Hz":18},{"id":"S27","grp":"Drd1a Male","nA":0.35,"Hz":24},{"id":"S27","grp":"Drd1a Male","nA":0.41,"Hz":28},{"id":"S27","grp":"Drd1a Male","nA":0.47,"Hz":30.5},
{"id":"S28","grp":"Drd1a Male","nA":0.16,"Hz":0},{"id":"S28","grp":"Drd1a Male","nA":0.19,"Hz":8},{"id":"S28","grp":"Drd1a Male","nA":0.24,"Hz":16},{"id":"S28","grp":"Drd1a Male","nA":0.3,"Hz":22},{"id":"S28","grp":"Drd1a Male","nA":0.36,"Hz":26},{"id":"S28","grp":"Drd1a Male","nA":0.42,"Hz":28},
{"id":"f1","grp":"Drd2 Female","nA":0.1,"Hz":0},{"id":"f1","grp":"Drd2 Female","nA":0.13,"Hz":14},{"id":"f1","grp":"Drd2 Female","nA":0.17,"Hz":28},{"id":"f1","grp":"Drd2 Female","nA":0.22,"Hz":38},{"id":"f1","grp":"Drd2 Female","nA":0.28,"Hz":45},{"id":"f1","grp":"Drd2 Female","nA":0.33,"Hz":49},{"id":"f1","grp":"Drd2 Female","nA":0.36,"Hz":50},
{"id":"f2","grp":"Drd2 Female","nA":0.12,"Hz":0},{"id":"f2","grp":"Drd2 Female","nA":0.15,"Hz":15},{"id":"f2","grp":"Drd2 Female","nA":0.19,"Hz":28},{"id":"f2","grp":"Drd2 Female","nA":0.24,"Hz":37},{"id":"f2","grp":"Drd2 Female","nA":0.3,"Hz":44},{"id":"f2","grp":"Drd2 Female","nA":0.36,"Hz":48},{"id":"f2","grp":"Drd2 Female","nA":0.43,"Hz":52},
{"id":"f3","grp":"Drd2 Female","nA":0.13,"Hz":0},{"id":"f3","grp":"Drd2 Female","nA":0.16,"Hz":12},{"id":"f3","grp":"Drd2 Female","nA":0.2,"Hz":25},{"id":"f3","grp":"Drd2 Female","nA":0.25,"Hz":35},{"id":"f3","grp":"Drd2 Female","nA":0.3,"Hz":41},{"id":"f3","grp":"Drd2 Female","nA":0.35,"Hz":45},{"id":"f3","grp":"Drd2 Female","nA":0.4,"Hz":48},
{"id":"f4","grp":"Drd2 Female","nA":0.14,"Hz":0},{"id":"f4","grp":"Drd2 Female","nA":0.17,"Hz":14},{"id":"f4","grp":"Drd2 Female","nA":0.21,"Hz":26},{"id":"f4","grp":"Drd2 Female","nA":0.26,"Hz":35},{"id":"f4","grp":"Drd2 Female","nA":0.32,"Hz":42},{"id":"f4","grp":"Drd2 Female","nA":0.38,"Hz":46},{"id":"f4","grp":"Drd2 Female","nA":0.44,"Hz":49},
{"id":"f5","grp":"Drd2 Female","nA":0.11,"Hz":0},{"id":"f5","grp":"Drd2 Female","nA":0.14,"Hz":13},{"id":"f5","grp":"Drd2 Female","nA":0.18,"Hz":26},{"id":"f5","grp":"Drd2 Female","nA":0.22,"Hz":34},{"id":"f5","grp":"Drd2 Female","nA":0.26,"Hz":39},{"id":"f5","grp":"Drd2 Female","nA":0.3,"Hz":42},
{"id":"f6","grp":"Drd2 Female","nA":0.15,"Hz":0},{"id":"f6","grp":"Drd2 Female","nA":0.19,"Hz":18},{"id":"f6","grp":"Drd2 Female","nA":0.23,"Hz":30},{"id":"f6","grp":"Drd2 Female","nA":0.28,"Hz":39},{"id":"f6","grp":"Drd2 Female","nA":0.34,"Hz":46},{"id":"f6","grp":"Drd2 Female","nA":0.4,"Hz":51},{"id":"f6","grp":"Drd2 Female","nA":0.45,"Hz":56},
{"id":"f7","grp":"Drd2 Female","nA":0.05,"Hz":2},{"id":"f7","grp":"Drd2 Female","nA":0.07,"Hz":12},{"id":"f7","grp":"Drd2 Female","nA":0.09,"Hz":18},{"id":"f7","grp":"Drd2 Female","nA":0.11,"Hz":24},{"id":"f7","grp":"Drd2 Female","nA":0.12,"Hz":27},
{"id":"f8","grp":"Drd2 Female","nA":0.17,"Hz":0},{"id":"f8","grp":"Drd2 Female","nA":0.2,"Hz":12},{"id":"f8","grp":"Drd2 Female","nA":0.25,"Hz":24},{"id":"f8","grp":"Drd2 Female","nA":0.3,"Hz":32},{"id":"f8","grp":"Drd2 Female","nA":0.36,"Hz":38},{"id":"f8","grp":"Drd2 Female","nA":0.42,"Hz":42},
{"id":"f9","grp":"Drd2 Female","nA":0.12,"Hz":0},{"id":"f9","grp":"Drd2 Female","nA":0.16,"Hz":18},{"id":"f9","grp":"Drd2 Female","nA":0.2,"Hz":30},{"id":"f9","grp":"Drd2 Female","nA":0.25,"Hz":40},{"id":"f9","grp":"Drd2 Female","nA":0.3,"Hz":46},{"id":"f9","grp":"Drd2 Female","nA":0.35,"Hz":50},{"id":"f9","grp":"Drd2 Female","nA":0.4,"Hz":53},{"id":"f9","grp":"Drd2 Female","nA":0.45,"Hz":56},
{"id":"f10","grp":"Drd2 Female","nA":0.09,"Hz":0},{"id":"f10","grp":"Drd2 Female","nA":0.12,"Hz":10},{"id":"f10","grp":"Drd2 Female","nA":0.15,"Hz":19},{"id":"f10","grp":"Drd2 Female","nA":0.18,"Hz":26},{"id":"f10","grp":"Drd2 Female","nA":0.22,"Hz":32},{"id":"f10","grp":"Drd2 Female","nA":0.25,"Hz":35},
{"id":"f11","grp":"Drd2 Female","nA":0.16,"Hz":0},{"id":"f11","grp":"Drd2 Female","nA":0.2,"Hz":16},{"id":"f11","grp":"Drd2 Female","nA":0.25,"Hz":28},{"id":"f11","grp":"Drd2 Female","nA":0.3,"Hz":36},{"id":"f11","grp":"Drd2 Female","nA":0.35,"Hz":41},{"id":"f11","grp":"Drd2 Female","nA":0.4,"Hz":44},
{"id":"m1","grp":"Drd2 Male","nA":0.12,"Hz":0},{"id":"m1","grp":"Drd2 Male","nA":0.15,"Hz":17},{"id":"m1","grp":"Drd2 Male","nA":0.18,"Hz":38},{"id":"m1","grp":"Drd2 Male","nA":0.2,"Hz":52},{"id":"m1","grp":"Drd2 Male","nA":0.225,"Hz":67},{"id":"m1","grp":"Drd2 Male","nA":0.25,"Hz":78},{"id":"m1","grp":"Drd2 Male","nA":0.27,"Hz":86},
{"id":"m2","grp":"Drd2 Male","nA":0.006,"Hz":1},{"id":"m2","grp":"Drd2 Male","nA":0.012,"Hz":8},{"id":"m2","grp":"Drd2 Male","nA":0.018,"Hz":18},{"id":"m2","grp":"Drd2 Male","nA":0.025,"Hz":24},{"id":"m2","grp":"Drd2 Male","nA":0.035,"Hz":27},
{"id":"m3","grp":"Drd2 Male","nA":0.01,"Hz":2},{"id":"m3","grp":"Drd2 Male","nA":0.022,"Hz":5},{"id":"m3","grp":"Drd2 Male","nA":0.042,"Hz":17},{"id":"m3","grp":"Drd2 Male","nA":0.062,"Hz":28},{"id":"m3","grp":"Drd2 Male","nA":0.082,"Hz":35},{"id":"m3","grp":"Drd2 Male","nA":0.097,"Hz":37},{"id":"m3","grp":"Drd2 Male","nA":0.12,"Hz":40},
{"id":"m4","grp":"Drd2 Male","nA":0.012,"Hz":3},{"id":"m4","grp":"Drd2 Male","nA":0.03,"Hz":10},{"id":"m4","grp":"Drd2 Male","nA":0.052,"Hz":21},{"id":"m4","grp":"Drd2 Male","nA":0.075,"Hz":26},{"id":"m4","grp":"Drd2 Male","nA":0.095,"Hz":31},
{"id":"m5","grp":"Drd2 Male","nA":0.007,"Hz":2},{"id":"m5","grp":"Drd2 Male","nA":0.03,"Hz":3},{"id":"m5","grp":"Drd2 Male","nA":0.05,"Hz":2},{"id":"m5","grp":"Drd2 Male","nA":0.06,"Hz":10},{"id":"m5","grp":"Drd2 Male","nA":0.08,"Hz":20},{"id":"m5","grp":"Drd2 Male","nA":0.1,"Hz":25},{"id":"m5","grp":"Drd2 Male","nA":0.12,"Hz":28},
{"id":"m6","grp":"Drd2 Male","nA":0.08,"Hz":0.5},{"id":"m6","grp":"Drd2 Male","nA":0.1,"Hz":13},{"id":"m6","grp":"Drd2 Male","nA":0.12,"Hz":21},{"id":"m6","grp":"Drd2 Male","nA":0.15,"Hz":29},{"id":"m6","grp":"Drd2 Male","nA":0.2,"Hz":40},{"id":"m6","grp":"Drd2 Male","nA":0.25,"Hz":47},{"id":"m6","grp":"Drd2 Male","nA":0.3,"Hz":52},{"id":"m6","grp":"Drd2 Male","nA":0.35,"Hz":56},{"id":"m6","grp":"Drd2 Male","nA":0.4,"Hz":59},{"id":"m6","grp":"Drd2 Male","nA":0.47,"Hz":62},
{"id":"m7","grp":"Drd2 Male","nA":0.1,"Hz":0},{"id":"m7","grp":"Drd2 Male","nA":0.13,"Hz":15},{"id":"m7","grp":"Drd2 Male","nA":0.17,"Hz":28},{"id":"m7","grp":"Drd2 Male","nA":0.22,"Hz":40},{"id":"m7","grp":"Drd2 Male","nA":0.28,"Hz":48},{"id":"m7","grp":"Drd2 Male","nA":0.34,"Hz":53},{"id":"m7","grp":"Drd2 Male","nA":0.4,"Hz":56},{"id":"m7","grp":"Drd2 Male","nA":0.43,"Hz":57},
{"id":"m8","grp":"Drd2 Male","nA":0.12,"Hz":0},{"id":"m8","grp":"Drd2 Male","nA":0.15,"Hz":14},{"id":"m8","grp":"Drd2 Male","nA":0.2,"Hz":30},{"id":"m8","grp":"Drd2 Male","nA":0.25,"Hz":40},{"id":"m8","grp":"Drd2 Male","nA":0.3,"Hz":46},{"id":"m8","grp":"Drd2 Male","nA":0.36,"Hz":50},{"id":"m8","grp":"Drd2 Male","nA":0.42,"Hz":52},
{"id":"m9","grp":"Drd2 Male","nA":0.11,"Hz":0},{"id":"m9","grp":"Drd2 Male","nA":0.14,"Hz":12},{"id":"m9","grp":"Drd2 Male","nA":0.18,"Hz":26},{"id":"m9","grp":"Drd2 Male","nA":0.23,"Hz":36},{"id":"m9","grp":"Drd2 Male","nA":0.28,"Hz":42},{"id":"m9","grp":"Drd2 Male","nA":0.33,"Hz":46},{"id":"m9","grp":"Drd2 Male","nA":0.36,"Hz":47},
{"id":"m10","grp":"Drd2 Male","nA":0.14,"Hz":0},{"id":"m10","grp":"Drd2 Male","nA":0.18,"Hz":12},{"id":"m10","grp":"Drd2 Male","nA":0.24,"Hz":22},{"id":"m10","grp":"Drd2 Male","nA":0.3,"Hz":29},{"id":"m10","grp":"Drd2 Male","nA":0.38,"Hz":36},{"id":"m10","grp":"Drd2 Male","nA":0.47,"Hz":44},
{"id":"m11","grp":"Drd2 Male","nA":0.18,"Hz":0},{"id":"m11","grp":"Drd2 Male","nA":0.22,"Hz":14},{"id":"m11","grp":"Drd2 Male","nA":0.27,"Hz":24},{"id":"m11","grp":"Drd2 Male","nA":0.33,"Hz":31},{"id":"m11","grp":"Drd2 Male","nA":0.4,"Hz":36},{"id":"m11","grp":"Drd2 Male","nA":0.47,"Hz":40},
{"id":"m12","grp":"Drd2 Male","nA":0.09,"Hz":0},{"id":"m12","grp":"Drd2 Male","nA":0.12,"Hz":12},{"id":"m12","grp":"Drd2 Male","nA":0.15,"Hz":22},{"id":"m12","grp":"Drd2 Male","nA":0.18,"Hz":30},{"id":"m12","grp":"Drd2 Male","nA":0.21,"Hz":36},{"id":"m12","grp":"Drd2 Male","nA":0.24,"Hz":40},
{"id":"m13","grp":"Drd2 Male","nA":0.13,"Hz":0},{"id":"m13","grp":"Drd2 Male","nA":0.16,"Hz":16},{"id":"m13","grp":"Drd2 Male","nA":0.19,"Hz":27},{"id":"m13","grp":"Drd2 Male","nA":0.22,"Hz":35},{"id":"m13","grp":"Drd2 Male","nA":0.26,"Hz":42},{"id":"m13","grp":"Drd2 Male","nA":0.3,"Hz":46},
{"id":"m14","grp":"Drd2 Male","nA":0.16,"Hz":0},{"id":"m14","grp":"Drd2 Male","nA":0.2,"Hz":18},{"id":"m14","grp":"Drd2 Male","nA":0.25,"Hz":30},{"id":"m14","grp":"Drd2 Male","nA":0.3,"Hz":37},{"id":"m14","grp":"Drd2 Male","nA":0.35,"Hz":42}
]},
"mark": {"type": "line", "strokeWidth": 0.9, "interpolate": "monotone"},
"encoding": {
"x": {"field": "nA", "type": "quantitative", "scale": {"domain": [-0.005, 0.47], "nice": false, "zero": false}, "axis": {"values": [0, 0.05, 0.1, 0.15, 0.2, 0.25, 0.3, 0.35, 0.4, 0.45], "format": "~g", "labelAngle": -45, "offset": 23, "tickSize": 6, "title": "Injected Current (nA)", "titlePadding": 18}},
"y": {"field": "Hz", "type": "quantitative", "scale": {"domain": [0, 90], "nice": false}, "axis": {"values": [0, 30, 60, 90], "offset": 22, "tickSize": 7, "title": "Evoked Firing Rate (Hz)", "titlePadding": 3}},
"color": {"field": "grp", "type": "nominal", "scale": {"domain": ["Drd1a Male", "Drd2 Male", "Drd1a Female", "Drd2 Female"], "range": ["#111111", "#ee2a2a", "#111111", "#ee2a2a"]}, "legend": {"orient": "none", "legendX": 1, "legendY": -2, "title": null, "symbolType": "M-2.4,0H2.4", "symbolSize": 100, "symbolStrokeWidth": 1.1, "labelFontSize": 14, "labelFontWeight": "normal", "labelColor": "#333333", "labelOffset": 17, "rowPadding": 5, "padding": 0}},
"strokeDash": {"field": "grp", "type": "nominal", "scale": {"domain": ["Drd1a Male", "Drd2 Male", "Drd1a Female", "Drd2 Female"], "range": [[1, 0], [1, 0], [2, 1.5], [2, 1.5]]}, "legend": {"orient": "none", "legendX": 1, "legendY": -2, "title": null, "symbolType": "M-2.4,0H2.4", "symbolSize": 100, "symbolStrokeWidth": 1.1, "labelFontSize": 14, "labelFontWeight": "normal", "labelColor": "#333333", "labelOffset": 17, "rowPadding": 5, "padding": 0}},
"detail": {"field": "id"}
}
},
{
"width": 201, "height": 215,
"title": {"text": "C", "anchor": "start", "frame": "bounds", "fontSize": 22, "fontWeight": "bold", "dx": -27, "offset": -6},
"encoding": {
"x": {"field": "grp", "type": "nominal", "scale": {"domain": ["Drd1a Male", "Drd2 Male", "Drd1a Female", "Drd2 Female"], "paddingInner": 0, "paddingOuter": 0}, "axis": {"title": null, "labelAngle": -45, "tickSize": 6}}
},
"layer": [
{
"data": {"values": [
{"grp":"Drd1a Male","slope":400,"jitter":0},{"grp":"Drd1a Male","slope":292,"jitter":0},{"grp":"Drd1a Male","slope":272,"jitter":-4},{"grp":"Drd1a Male","slope":266,"jitter":5},{"grp":"Drd1a Male","slope":246,"jitter":-12},{"grp":"Drd1a Male","slope":249,"jitter":12},{"grp":"Drd1a Male","slope":230,"jitter":-3},{"grp":"Drd1a Male","slope":235,"jitter":5},{"grp":"Drd1a Male","slope":207,"jitter":-8},{"grp":"Drd1a Male","slope":208,"jitter":-1},{"grp":"Drd1a Male","slope":205,"jitter":6},{"grp":"Drd1a Male","slope":206,"jitter":12},{"grp":"Drd1a Male","slope":195,"jitter":-11},{"grp":"Drd1a Male","slope":190,"jitter":-5},{"grp":"Drd1a Male","slope":191,"jitter":2},{"grp":"Drd1a Male","slope":190,"jitter":10},{"grp":"Drd1a Male","slope":178,"jitter":-12},{"grp":"Drd1a Male","slope":180,"jitter":-6},{"grp":"Drd1a Male","slope":177,"jitter":0},{"grp":"Drd1a Male","slope":175,"jitter":6},{"grp":"Drd1a Male","slope":166,"jitter":13},{"grp":"Drd1a Male","slope":160,"jitter":-8},{"grp":"Drd1a Male","slope":161,"jitter":-2},{"grp":"Drd1a Male","slope":159,"jitter":4},{"grp":"Drd1a Male","slope":146,"jitter":-10},{"grp":"Drd1a Male","slope":140,"jitter":7},{"grp":"Drd1a Male","slope":135,"jitter":-11},{"grp":"Drd1a Male","slope":120,"jitter":-3},{"grp":"Drd1a Male","slope":108,"jitter":5},{"grp":"Drd1a Male","slope":95,"jitter":-4},
{"grp":"Drd2 Male","slope":530,"jitter":0},{"grp":"Drd2 Male","slope":430,"jitter":5},{"grp":"Drd2 Male","slope":410,"jitter":-4},{"grp":"Drd2 Male","slope":348,"jitter":0},{"grp":"Drd2 Male","slope":330,"jitter":5},{"grp":"Drd2 Male","slope":320,"jitter":-4},{"grp":"Drd2 Male","slope":236,"jitter":-12},{"grp":"Drd2 Male","slope":242,"jitter":0},{"grp":"Drd2 Male","slope":236,"jitter":13},{"grp":"Drd2 Male","slope":215,"jitter":-8},{"grp":"Drd2 Male","slope":215,"jitter":5},{"grp":"Drd2 Male","slope":175,"jitter":-9},{"grp":"Drd2 Male","slope":168,"jitter":9},{"grp":"Drd2 Male","slope":147,"jitter":0},
{"grp":"Drd1a Female","slope":444,"jitter":0},{"grp":"Drd1a Female","slope":225,"jitter":5},{"grp":"Drd1a Female","slope":208,"jitter":-4},{"grp":"Drd1a Female","slope":182,"jitter":-8},{"grp":"Drd1a Female","slope":178,"jitter":0},{"grp":"Drd1a Female","slope":190,"jitter":10},{"grp":"Drd1a Female","slope":170,"jitter":-12},{"grp":"Drd1a Female","slope":166,"jitter":-6},{"grp":"Drd1a Female","slope":163,"jitter":0},{"grp":"Drd1a Female","slope":165,"jitter":6},{"grp":"Drd1a Female","slope":168,"jitter":12},{"grp":"Drd1a Female","slope":157,"jitter":-9},{"grp":"Drd1a Female","slope":155,"jitter":3},{"grp":"Drd1a Female","slope":150,"jitter":-3},{"grp":"Drd1a Female","slope":152,"jitter":9},{"grp":"Drd1a Female","slope":135,"jitter":-12},{"grp":"Drd1a Female","slope":130,"jitter":-4},{"grp":"Drd1a Female","slope":142,"jitter":4},{"grp":"Drd1a Female","slope":140,"jitter":12},{"grp":"Drd1a Female","slope":122,"jitter":-8},{"grp":"Drd1a Female","slope":120,"jitter":0},{"grp":"Drd1a Female","slope":112,"jitter":5},{"grp":"Drd1a Female","slope":115,"jitter":-3},{"grp":"Drd1a Female","slope":87,"jitter":-4},{"grp":"Drd1a Female","slope":148,"jitter":-14},{"grp":"Drd1a Female","slope":160,"jitter":14},
{"grp":"Drd2 Female","slope":368,"jitter":-4},{"grp":"Drd2 Female","slope":375,"jitter":5},{"grp":"Drd2 Female","slope":272,"jitter":9},{"grp":"Drd2 Female","slope":255,"jitter":-8},{"grp":"Drd2 Female","slope":252,"jitter":0},{"grp":"Drd2 Female","slope":222,"jitter":-4},{"grp":"Drd2 Female","slope":228,"jitter":5},{"grp":"Drd2 Female","slope":188,"jitter":-8},{"grp":"Drd2 Female","slope":187,"jitter":0},{"grp":"Drd2 Female","slope":200,"jitter":9},{"grp":"Drd2 Female","slope":117,"jitter":0}
]},
"layer": [
{"transform": [{"filter": "indexof(datum.grp, 'Female') < 0"}], "mark": {"type": "point", "filled": true, "size": 32, "opacity": 1},
"encoding": {"y": {"field": "slope", "type": "quantitative", "scale": {"domain": [0, 600], "nice": false, "range": [215, 15]}, "axis": {"values": [0, 200, 400, 600], "title": "FI Slope (Hz/nA)", "titlePadding": 4, "tickSize": 6}},
"xOffset": {"field": "jitter", "type": "quantitative", "scale": {"domain": [-25.125, 25.125]}},
"color": {"field": "grp", "type": "nominal", "scale": {"domain": ["Drd1a Male", "Drd2 Male", "Drd1a Female", "Drd2 Female"], "range": ["#111111", "#ea2227", "#111111", "#ea2227"]}, "legend": null}}},
{"transform": [{"filter": "indexof(datum.grp, 'Female') >= 0"}], "mark": {"type": "point", "filled": false, "size": 24, "strokeWidth": 1.8, "opacity": 1},
"encoding": {"y": {"field": "slope", "type": "quantitative"},
"xOffset": {"field": "jitter", "type": "quantitative"},
"color": {"field": "grp", "type": "nominal", "legend": null}}}
]
},
{
"data": {"values": [{"grp":"Drd1a Male","mean":193},{"grp":"Drd2 Male","mean":278},{"grp":"Drd1a Female","mean":162},{"grp":"Drd2 Female","mean":242}]},
"mark": {"type": "tick", "size": 33, "thickness": 2.5, "color": "black", "opacity": 1},
"encoding": {"y": {"field": "mean", "type": "quantitative"}}
},
{
"data": {"values": [{"from":"Drd1a Male","to":"Drd2 Male","y":557,"label":"**"},{"from":"Drd2 Male","to":"Drd1a Female","y":614,"label":"****"},{"from":"Drd1a Female","to":"Drd2 Female","y":557,"label":"*"}]},
"layer": [
{"mark": {"type": "rule", "color": "#a6a6a6", "strokeWidth": 1.5}, "encoding": {"x": {"field": "from", "type": "nominal"}, "x2": {"field": "to"}, "y": {"field": "y", "type": "quantitative"}}},
{"mark": {"type": "text", "fontSize": 18, "fontWeight": "bold", "baseline": "alphabetic", "dy": 3, "color": "#111111"}, "encoding": {"x": {"field": "from", "type": "nominal"}, "xOffset": {"datum": 25.125}, "y": {"field": "y", "type": "quantitative"}, "text": {"field": "label"}}}
]
}
]
}
]
}
],
"config": {
"font": "Liberation Sans",
"view": {"stroke": null},
"axis": {"domainColor": "black", "domainWidth": 2, "tickColor": "black", "tickWidth": 2, "labelFont": "Liberation Sans", "labelFontSize": 15, "labelFontWeight": "bold", "labelColor": "black", "labelPadding": 3, "labelFlush": false, "labelOverlap": false, "titleFont": "Liberation Sans", "titleFontSize": 17, "titleFontWeight": "bold", "titleColor": "black", "grid": false},
"title": {"font": "Liberation Sans", "color": "black"},
"header": {"labelFont": "Liberation Sans", "labelColor": "black"},
"text": {"font": "Liberation Sans"}
}
}
